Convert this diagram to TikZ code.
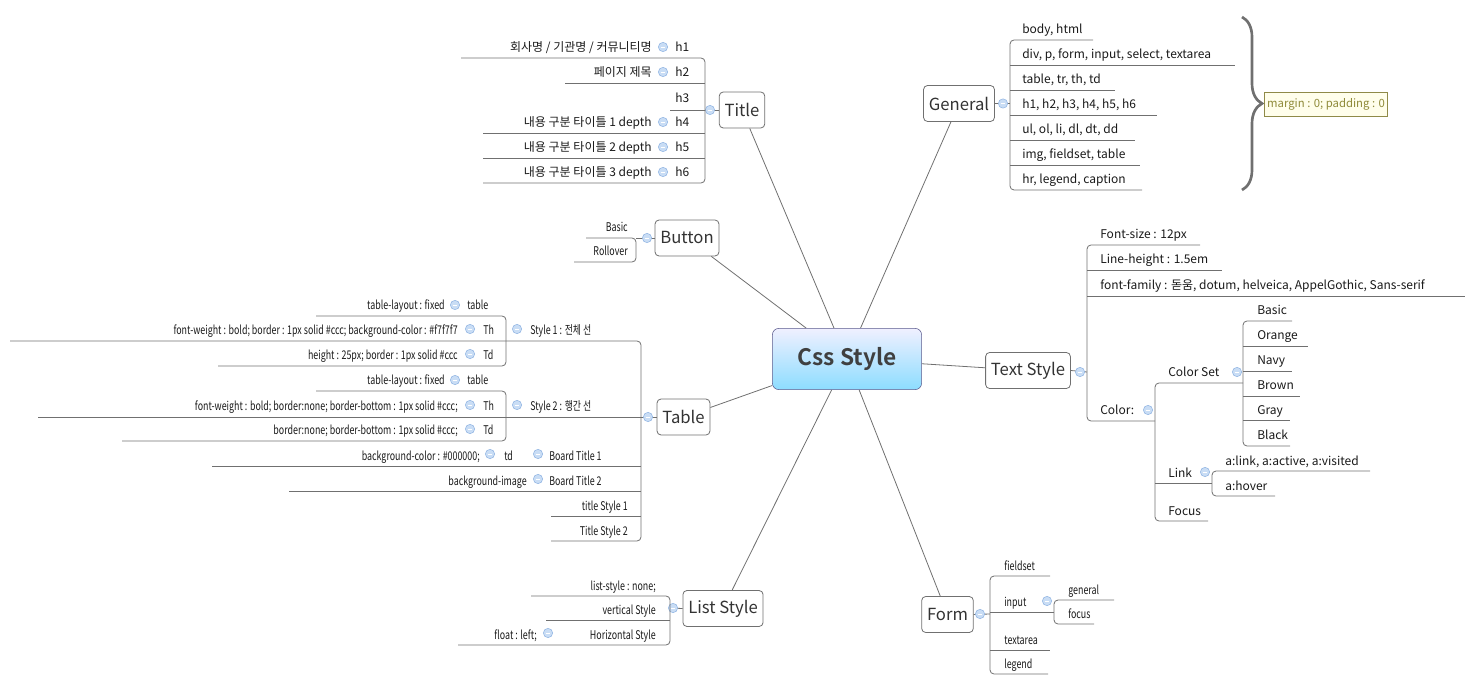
\documentclass[tikz,border=0pt]{standalone}
\usepackage{fontspec}
\setmainfont{Noto Sans CJK KR}[BoldFont={Noto Sans CJK KR Bold}]
\usetikzlibrary{decorations.pathreplacing}
\definecolor{ln}{HTML}{707070}
\definecolor{mkf}{HTML}{C9DDF5}
\definecolor{mkd}{HTML}{8FB4E3}
\newcommand\cnd[1]{\scalebox{0.74}[1]{#1}}
\tikzset{
 lf/.style={inner sep=0pt, font=\fontsize{9}{10}\selectfont, text=black!90},
 lw/.style={lf, anchor=base west},
 le/.style={lf, anchor=base east},
 cl/.style={draw=ln, line width=0.6pt},
 sp/.style={cl, rounded corners=3pt},
 mk/.style={circle, draw=mkd, fill=mkf, line width=0.4pt, minimum size=7pt, inner sep=0pt,
   path picture={\draw[white, line width=0.7pt] ([xshift=-1.8pt]path picture bounding box.center) -- ([xshift=1.8pt]path picture bounding box.center);}},
 topic/.style={draw=ln, rounded corners=3pt, fill=white, line width=0.6pt, font=\fontsize{12.5}{14}\selectfont,
   text=black!80, minimum height=27pt, inner xsep=4pt},
}
\begin{document}
\begin{tikzpicture}[x=0.75pt,y=-0.75pt]
\useasboundingbox (0,0) rectangle (1481,691);
% ---------- central
\node[draw=ln!80!blue, rounded corners=5pt, top color=blue!6!white, bottom color=blue!30!cyan!45!white,
  minimum width=112pt, minimum height=46pt, font=\fontsize{17}{20}\bfseries, text=black!75] (css) at (847,359) {Css Style};
% ---------- topics
\node[topic] (title) at (742,110) {Title};
\node[topic] (general) at (959,103.5) {General};
\node[topic] (button) at (687,238) {Button};
\node[topic] (table) at (683.5,417) {Table};
\node[topic] (textstyle) at (1028,370.5) {Text Style};
\node[topic] (liststyle) at (723,608.5) {List Style};
\node[topic] (form) at (947.5,614.5) {Form};
\foreach \t in {title,general,button,table,textstyle,liststyle,form} \draw[cl] (css) -- (\t);

% ---------- Title
\coordinate (tj) at (705,110);
\draw[cl] (title.west) -- (tj);
\node[mk] (tm) at (710,110) {};
\draw[sp] (461,58) -- (705,58) -- (705,183) -- (483,183);
\draw[cl] (565,83) -- (705,83); \draw[cl] (670,110) -- (705,110);
\draw[cl] (483,133) -- (705,133); \draw[cl] (483,158) -- (705,158);
\node[lw] (h1) at (675,52) {h1}; \node[mk] (h1m) at (663,47) {}; \node[le] (h1t) at (652,52) {회사명 / 기관명 / 커뮤니티명};
\node[lw] (h2) at (675,77) {h2}; \node[mk] (h2m) at (663,72) {}; \node[le] (h2t) at (652,77) {페이지 제목};
\node[lw] (h3) at (675,103) {h3};
\node[lw] (h4) at (675,127) {h4}; \node[mk] (h4m) at (663,122) {}; \node[le] (h4t) at (652,127) {내용 구분 타이틀 1 depth};
\node[lw] (h5) at (675,152) {h5}; \node[mk] (h5m) at (663,147) {}; \node[le] (h5t) at (652,152) {내용 구분 타이틀 2 depth};
\node[lw] (h6) at (675,177) {h6}; \node[mk] (h6m) at (663,172) {}; \node[le] (h6t) at (652,177) {내용 구분 타이틀 3 depth};

% ---------- General
\draw[cl] (general.east) -- (1010,103.5);
\node[mk] (gm) at (1003,103.5) {};
\draw[sp] (1093,40) -- (1010,40) -- (1010,190) -- (1142,190);
\foreach \y/\r in {65/1235,90/1115,115/1157,140/1135,165/1140} \draw[cl] (1010,\y) -- (\r,\y);
\node[lw] (g1) at (1022,34) {body, html};
\node[lw] (g2) at (1022,59) {div, p, form, input, select, textarea};
\node[lw] (g3) at (1022,84) {table, tr, th, td};
\node[lw] (g4) at (1022,109) {h1, h2, h3, h4, h5, h6};
\node[lw] (g5) at (1022,134) {ul, ol, li, dl, dt, dd};
\node[lw] (g6) at (1022,159) {img, fieldset, table};
\node[lw] (g7) at (1022,184) {hr, legend, caption};
\draw[draw=ln, line width=2pt, decorate, decoration={brace, amplitude=20pt*0.75}] (1242,17) -- (1242,190);
\node[draw=olive!50!gray, fill=yellow!8!white, minimum width=82pt, minimum height=18pt, inner sep=2pt,
  font=\fontsize{8.5}{10}\selectfont, text=olive!60!gray] (note) at (1326,104.5) {margin : 0; padding : 0};

% ---------- Button
\draw[cl] (button.west) -- (636,238);
\node[mk] (bm) at (647,238) {};
\draw[sp] (586,238) -- (636,238) -- (636,262) -- (574,262);
\node[le] (b1) at (628,232) {\cnd{Basic}};
\node[le] (b2) at (628,256) {\cnd{Rollover}};

% ---------- Table
\draw[cl] (table.west) -- (641,417);
\node[mk] (tbm) at (648,417) {};
\draw[sp] (10,341) -- (641,341) -- (641,541) -- (551,541);
\foreach \y/\l in {417/38,466/212,491/289,516/551} \draw[cl] (\l,\y) -- (641,\y);
\draw[sp] (316,316) -- (506,316) -- (506,366) -- (218,366);
\draw[sp] (316,391) -- (506,391) -- (506,441) -- (122,441);
\node[lw] (s1) at (530,335) {\cnd{Style 1 : 전체 선}}; \node[mk] (s1m) at (517,329) {};
\node[lw] (s1a) at (467,310) {\cnd{table}}; \node[mk] (s1am) at (455,305) {}; \node[le] (s1at) at (445,310) {\cnd{table-layout : fixed}};
\node[lw] (s1b) at (483,335) {\cnd{Th}}; \node[mk] (s1bm) at (470,329) {}; \node[le] (s1bt) at (458,335) {\cnd{font-weight : bold; border : 1px solid \#ccc; background-color : \#f7f7f7}};
\node[lw] (s1c) at (483,360) {\cnd{Td}}; \node[mk] (s1cm) at (470,354) {}; \node[le] (s1ct) at (458,360) {\cnd{height : 25px; border : 1px solid \#ccc}};
\node[lw] (s2) at (530,411) {\cnd{Style 2 : 행간 선}}; \node[mk] (s2m) at (517,405) {};
\node[lw] (s2a) at (467,385) {\cnd{table}}; \node[mk] (s2am) at (455,380) {}; \node[le] (s2at) at (445,385) {\cnd{table-layout : fixed}};
\node[lw] (s2b) at (483,411) {\cnd{Th}}; \node[mk] (s2bm) at (470,405) {}; \node[le] (s2bt) at (458,411) {\cnd{font-weight : bold; border:none; border-bottom : 1px solid \#ccc;}};
\node[lw] (s2c) at (483,435) {\cnd{Td}}; \node[mk] (s2cm) at (470,429) {}; \node[le] (s2ct) at (458,435) {\cnd{border:none; border-bottom : 1px solid \#ccc;}};
\node[lw] (bt1) at (549,460) {\cnd{Board Title 1}}; \node[mk] (bt1m) at (538,454) {};
\node[lw] (bt1a) at (504,460) {\cnd{td}}; \node[mk] (bt1am) at (490,454) {}; \node[le] (bt1t) at (480,460) {\cnd{background-color : \#000000;}};
\node[lw] (bt2) at (549,485) {\cnd{Board Title 2}}; \node[mk] (bt2m) at (538,479) {}; \node[le] (bt2t) at (527,485) {\cnd{background-image}};
\node[le] (ts1) at (628,510) {\cnd{title Style 1}};
\node[le] (ts2) at (628,535) {\cnd{Title Style 2}};

% ---------- Text Style
\draw[cl] (textstyle.east) -- (1087,372);
\node[mk] (tsm) at (1080,372) {};
\draw[sp] (1200,245) -- (1087,245) -- (1087,421) -- (1155,421);
\draw[cl] (1087,270) -- (1222,270); \draw[cl] (1087,296) -- (1465,296);
\node[lw] (fs) at (1100,239) {Font-size : 12px};
\node[lw] (lh) at (1100,264) {Line-height : 1.5em};
\node[lw] (ff) at (1100,290) {font-family : 돋움, dotum, helveica, AppelGothic, Sans-serif};
\node[lw] (col) at (1100,415) {Color:}; \node[mk] (colm) at (1148,410) {};
\draw[sp] (1243,383) -- (1155,383) -- (1155,521) -- (1208,521);
\draw[cl] (1155,483) -- (1212,483);
\node[lw] (cs) at (1168,377) {Color Set}; \node[mk] (csm) at (1237,372) {};
\node[lw] (lk) at (1168,477) {Link}; \node[mk] (lkm) at (1205,472) {};
\node[lw] (fc) at (1168,515) {Focus};
\draw[sp] (1292,321) -- (1243,321) -- (1243,446) -- (1290,446);
\foreach \y/\r in {346/1308,371/1292,396/1300,420/1290} \draw[cl] (1243,\y) -- (\r,\y);
\node[lw] (c1) at (1257,315) {Basic};
\node[lw] (c2) at (1257,340) {Orange};
\node[lw] (c3) at (1257,365) {Navy};
\node[lw] (c4) at (1257,390) {Brown};
\node[lw] (c5) at (1257,414) {Gray};
\node[lw] (c6) at (1257,440) {Black};
\draw[sp] (1370,471) -- (1212,471) -- (1212,496) -- (1275,496);
\node[lw] (l1) at (1225,465) {a:link, a:active, a:visited};
\node[lw] (l2) at (1225,490) {a:hover};

% ---------- List Style
\draw[cl] (liststyle.west) -- (670,608);
\node[mk] (lsm) at (673,608) {};
\draw[sp] (531,596) -- (670,596) -- (670,645) -- (458,645);
\draw[cl] (546,620) -- (670,620);
\node[le] (ls1) at (656,590) {\cnd{list-style : none;}};
\node[le] (ls2) at (656,614) {\cnd{vertical Style}};
\node[le] (ls3) at (656,639) {\cnd{Horizontal Style}}; \node[mk] (ls3m) at (548,633) {}; \node[le] (ls3t) at (537,639) {\cnd{float : left;}};

% ---------- Form
\draw[cl] (form.east) -- (990,614);
\node[mk] (fmm) at (980,614) {};
\draw[sp] (1050,576) -- (990,576) -- (990,674) -- (1048,674);
\draw[cl] (990,612) -- (1054,612); \draw[cl] (990,650) -- (1050,650);
\node[lw] (f1) at (1004,570) {\cnd{fieldset}};
\node[lw] (f2) at (1004,606) {\cnd{input}}; \node[mk] (f2m) at (1047,601) {};
\node[lw] (f3) at (1004,644) {\cnd{textarea}};
\node[lw] (f4) at (1004,668) {\cnd{legend}};
\draw[sp] (1114,600) -- (1054,600) -- (1054,624) -- (1094,624);
\node[lw] (f2a) at (1068,594) {\cnd{general}};
\node[lw] (f2b) at (1068,618) {\cnd{focus}};
\end{tikzpicture}
\end{document}
